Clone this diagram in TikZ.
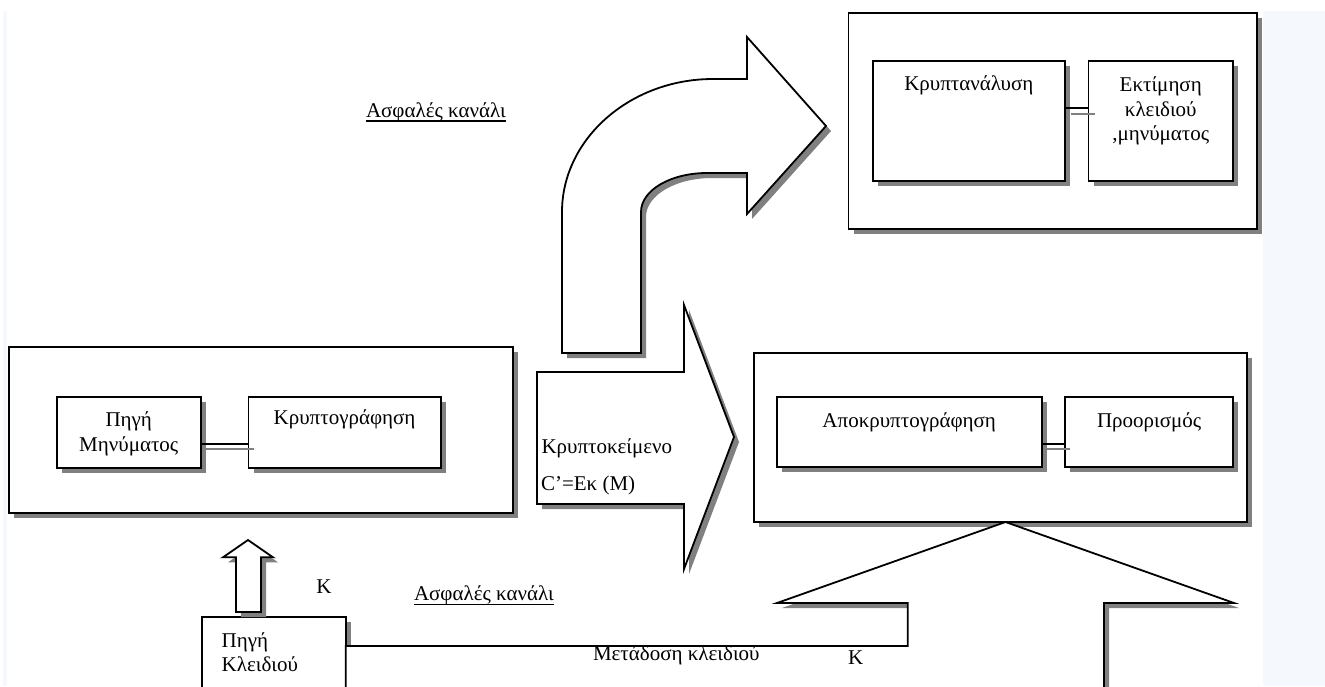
\documentclass[tikz,border=0pt]{standalone}
\usepackage{fontspec}
\setmainfont{Liberation Serif}
\definecolor{shgray}{HTML}{808080}
\definecolor{pagemargin}{HTML}{F5F9FE}
\tikzset{
  panel/.style={draw=black, line width=1.8pt, fill=white, inner sep=0pt, outer sep=0pt,
    preaction={draw=none, fill=shgray, transform canvas={xshift=5pt, yshift=-5pt}}},
  arrowshape/.style={draw=black, line width=1.8pt, fill=white, line join=miter,
    preaction={draw=none, fill=shgray, transform canvas={xshift=5pt, yshift=-5pt}}},
  link/.style={draw=black, line width=1.8pt},
  linkshade/.style={draw=shgray, line width=1.8pt},
  txt/.style={inner sep=0pt, outer sep=0pt, font=\fontsize{21}{24.5}\selectfont, anchor=base},
  uline/.style={draw=black, line width=1.4pt},
}
\begin{document}
\begin{tikzpicture}[x=1pt, y=-1pt]
  \useasboundingbox (0,0) rectangle (1325,686);
  \clip (0,0) rectangle (1325,686);
  % page and margins
  \fill[white] (0,0) rectangle (1325,686);
  \fill[pagemargin] (1263,11) rectangle (1325,686);
  \fill[pagemargin] (3,11) rectangle (7,686);

  % sender side
  \node[panel, minimum width=504.4pt, minimum height=166pt] (sender) at (260.8,430.3) {};
  \node[panel, minimum width=143.9pt, minimum height=71pt] (msgsrc) at (128.75,432.2) {};
  \node[panel, minimum width=192.1pt, minimum height=71pt] (encrypt) at (344.55,432.2) {};
  \draw[link] ([yshift=-12.1pt]msgsrc.east) -- ([yshift=-12.1pt]encrypt.west);
  \draw[linkshade] ([xshift=2.5pt, yshift=-16.5pt]msgsrc.east) -- ([xshift=5.5pt, yshift=-16.5pt]encrypt.west);

  % curved arrow towards the cryptanalyst
  \path[arrowshape] (562,353) -- (562,212) .. controls (562,139) and (630,79) .. (713,79)
    -- (747,79) -- (747,37) -- (826,126) -- (747,214) -- (747,173) -- (707,173)
    .. controls (671,173) and (641,190) .. (641,212) -- (641,353) -- cycle;

  % ciphertext arrow
  \path[arrowshape] (537,372) -- (684,372) -- (684,305) -- (734,437) -- (684,569)
    -- (684,504) -- (537,504) -- cycle;

  % cryptanalyst
  \node[panel, minimum width=408.2pt, minimum height=216.3pt] (attacker) at (1052.6,120.85) {};
  \node[panel, minimum width=192.1pt, minimum height=120.3pt] (analysis) at (968.85,120.85) {};
  \node[panel, minimum width=144.5pt, minimum height=120.3pt] (estimate) at (1160.75,120.85) {};
  \draw[link] ([yshift=12.5pt]analysis.east) -- ([yshift=12.5pt]estimate.west);
  \draw[linkshade] ([xshift=6pt, yshift=6.5pt]analysis.east) -- ([xshift=6.5pt, yshift=6.5pt]estimate.west);

  % receiver side
  \node[panel, minimum width=493.3pt, minimum height=169pt] (receiver) at (1000.65,437.2) {};
  \node[panel, minimum width=265pt, minimum height=70.6pt] (decrypt) at (909.2,432) {};
  \node[panel, minimum width=168.3pt, minimum height=70.6pt] (dest) at (1149.15,432) {};
  \draw[link] ([yshift=-12.3pt]decrypt.east) -- ([yshift=-12.3pt]dest.west);
  \draw[linkshade] ([xshift=5pt, yshift=-17.3pt]decrypt.east) -- ([xshift=5pt, yshift=-17.3pt]dest.west);

  % key source and key channels
  \node[panel, minimum width=144pt, minimum height=103pt] (keysrc) at (273.7,668.5) {};
  \path[arrowshape] (236,612) -- (236,557.3) -- (223,557.3) -- (248,540) -- (273,557.3)
    -- (261,557.3) -- (261,612) -- cycle;
  \path[arrowshape] (345.7,646) -- (907.7,646) -- (907.7,603) -- (777,603) -- (1005.5,522)
    -- (1234,603) -- (1104,603) -- (1104,730) -- (345.7,730) -- cycle;

  % labels
  \node[txt] (msgsrcT) at (128.75,426.5) {\begin{tabular}[t]{@{}c@{}}Πηγή\\Μηνύματος\end{tabular}};
  \node[txt] (encryptT) at (344.55,424) {Κρυπτογράφηση};
  \node[txt] (analysisT) at (968.85,90.5) {Κρυπτανάλυση};
  \node[txt] (estimateT) at (1160.75,91.5) {\begin{tabular}[t]{@{}c@{}}Εκτίμηση\\κλειδιού\\,μηνύματος\end{tabular}};
  \node[txt] (decryptT) at (909.2,427) {Αποκρυπτογράφηση};
  \node[txt] (destT) at (1149.15,427) {Προορισμός};
  \node[txt, anchor=base west] (cipherT) at (541.5,453) {Κρυπτοκείμενο};
  \node[txt, anchor=base west] (formulaT) at (541,490) {C’=Eκ (M)};
  \node[txt, anchor=base west] (secure1) at (366,117) {Ασφαλές κανάλι};
  \draw[uline] ([yshift=-4pt]secure1.base west) -- ([yshift=-4pt]secure1.base east);
  \node[txt, anchor=base west] (secure2) at (414,600.5) {Ασφαλές κανάλι};
  \draw[uline] ([yshift=-4pt]secure2.base west) -- ([yshift=-4pt]secure2.base east);
  \node[txt] (key1) at (324,593.6) {K};
  \node[txt, anchor=base west] (keysrcT) at (221.7,647) {\begin{tabular}[t]{@{}l@{}}Πηγή\\Κλειδιού\end{tabular}};
  \node[txt, anchor=base west] (transferT) at (593,660.5) {Μετάδοση κλειδιού};
  \node[txt] (key2) at (855.7,664.4) {K};
\end{tikzpicture}
\end{document}
